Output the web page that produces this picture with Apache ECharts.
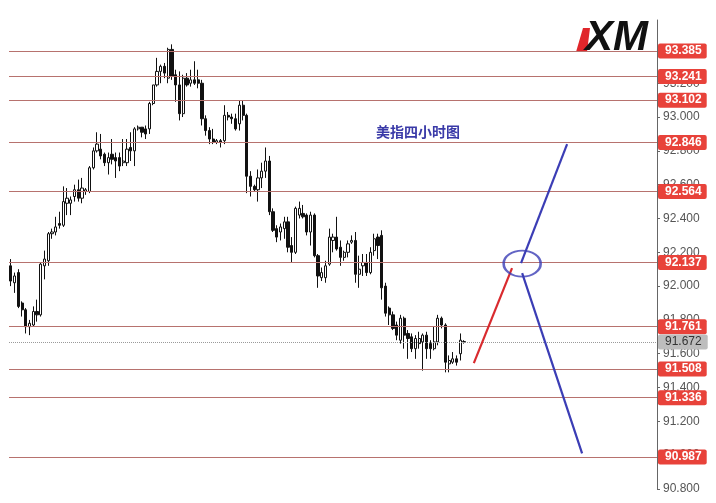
<!DOCTYPE html>
<html>
<head>
<meta charset="utf-8">
<script src="https://cdn.jsdelivr.net/npm/echarts@6/dist/echarts.min.js"></script>
<style>html,body{margin:0;padding:0;background:#fff;}#c{width:716px;height:503px;}</style>
</head>
<body>
<div id="c"></div>
<script>
// ---- data ----
var opens = [92.12,92.02,92.08,91.90,91.86,91.76,91.77,91.85,91.83,92.12,92.15,92.31,92.32,92.37,92.36,92.49,92.49,92.53,92.57,92.52,92.56,92.56,92.70,92.80,92.81,92.78,92.73,92.78,92.76,92.76,92.73,92.73,92.82,92.80,92.93,92.94,92.93,92.93,93.08,93.19,93.27,93.30,93.23,93.40,93.25,93.19,93.02,93.23,93.20,93.22,93.22,93.20,92.99,92.92,92.87,92.85,92.86,92.86,93.01,93.00,92.99,92.96,93.07,93.01,92.65,92.59,92.57,92.64,92.68,92.74,92.44,92.34,92.32,92.34,92.38,92.24,92.20,92.42,92.43,92.42,92.32,92.42,92.18,92.05,92.05,92.13,92.27,92.29,92.23,92.17,92.20,92.26,92.27,92.07,92.12,92.14,92.08,92.21,92.29,92.30,92.00,91.87,91.83,91.77,91.68,91.81,91.72,91.70,91.63,91.66,91.67,91.71,91.66,91.63,91.67,91.81,91.77,91.54,91.55,91.57,91.60,91.67];
var closes = [92.03,92.06,91.88,91.86,91.76,91.78,91.85,91.83,92.13,92.16,92.31,92.32,92.35,92.36,92.50,92.52,92.51,92.57,92.52,92.58,92.57,92.70,92.80,92.84,92.77,92.73,92.76,92.75,92.74,92.71,92.74,92.81,92.80,92.93,92.94,92.91,92.90,93.08,93.19,93.27,93.30,93.26,93.40,93.24,93.19,93.02,93.23,93.19,93.22,93.20,93.20,92.99,92.92,92.87,92.85,92.86,92.85,93.01,93.00,92.99,92.93,93.07,93.01,92.65,92.59,92.57,92.64,92.68,92.74,92.44,92.33,92.29,92.35,92.38,92.23,92.20,92.46,92.46,92.41,92.32,92.42,92.18,92.06,92.08,92.12,92.29,92.29,92.22,92.17,92.20,92.25,92.27,92.07,92.10,92.14,92.08,92.20,92.28,92.24,91.99,91.84,91.83,91.75,91.71,91.81,91.71,91.69,91.63,91.69,91.69,91.71,91.63,91.63,91.67,91.81,91.77,91.55,91.56,91.57,91.55,91.68,91.672];
var highs = [92.16,92.08,92.10,91.91,91.87,91.80,91.88,91.92,92.14,92.21,92.32,92.34,92.41,92.44,92.59,92.58,92.53,92.60,92.63,92.64,92.58,92.71,92.82,92.91,92.90,92.79,92.79,92.87,92.79,92.79,92.87,92.87,92.91,92.94,92.95,92.94,92.95,93.09,93.19,93.35,93.31,93.32,93.41,93.43,93.28,93.27,93.25,93.26,93.28,93.33,93.28,93.22,93.01,92.94,92.93,92.87,92.87,93.07,93.03,93.02,93.02,93.10,93.10,93.02,92.68,92.60,92.69,92.73,92.82,92.77,92.46,92.36,92.37,92.41,92.41,92.29,92.47,92.50,92.48,92.43,92.44,92.43,92.19,92.11,92.15,92.34,92.31,92.41,92.27,92.21,92.27,92.30,92.32,92.18,92.19,92.19,92.23,92.31,92.31,92.33,92.02,91.88,91.85,91.79,91.83,91.82,91.74,91.72,91.71,91.73,91.72,91.73,91.68,91.76,91.83,91.82,91.78,91.59,91.61,91.59,91.72,91.68];
var lows = [92.00,91.96,91.87,91.82,91.72,91.71,91.76,91.79,91.82,92.04,92.12,92.28,92.30,92.34,92.35,92.42,92.42,92.50,92.50,92.49,92.54,92.55,92.69,92.79,92.75,92.71,92.66,92.72,92.64,92.68,92.71,92.71,92.74,92.71,92.92,92.88,92.87,92.90,93.07,93.18,93.20,93.23,93.20,93.22,93.09,92.98,93.00,93.18,93.18,93.19,93.17,92.95,92.89,92.84,92.84,92.84,92.82,92.84,92.98,92.96,92.92,92.92,92.98,92.55,92.53,92.56,92.50,92.58,92.64,92.42,92.32,92.26,92.27,92.28,92.20,92.14,92.19,92.40,92.40,92.30,92.24,92.17,91.99,92.03,92.02,92.12,92.20,92.21,92.12,92.15,92.17,92.25,92.02,91.99,92.06,92.06,92.07,92.18,92.16,91.92,91.82,91.77,91.74,91.68,91.66,91.63,91.57,91.61,91.57,91.63,91.50,91.57,91.57,91.62,91.65,91.75,91.49,91.49,91.54,91.53,91.56,91.66];
var slotCount = 173;              // candle slots incl. empty space on the right
var levels = [93.385, 93.241, 93.102, 92.846, 92.564, 92.137, 91.761, 91.508, 91.336, 90.987];
var lastPrice = 91.672;
var yTicks = {min: 90.8, max: 93.574, interval: 0.2};
var redPath = [[123.6, 91.544], [133.8, 92.106]];
var blueUpPath = [[136.2, 92.136], [148.5, 92.840]];
var blueDownPath = [[136.5, 92.077], [152.5, 91.011]];
var circlePoint = [[136.5, 92.133]];
var titleText = '美指四小时图';

// ---- build ----
var cats = [];
for (var i = 0; i < slotCount; i++) cats.push(String(i));
var candles = [];
for (var j = 0; j < opens.length; j++) candles.push([opens[j], closes[j], lows[j], highs[j]]);

var lineColor = '#b7726e';
var boxFont = 'Liberation Sans';
var markData = levels.map(function (v) {
  return {
    yAxis: v,
    lineStyle: {color: lineColor, width: 1, type: 'solid'},
    label: {
      show: true, position: 'end', distance: 1,
      formatter: v.toFixed(3),
      backgroundColor: '#e8423a', color: '#fff', fontSize: 12, fontWeight: 'bold',
      fontFamily: boxFont, padding: [2, 5, 1, 7], borderRadius: 2
    }
  };
});
markData.push({
  yAxis: lastPrice,
  lineStyle: {color: '#9a9a9a', width: 1, type: 'dotted'},
  label: {
    show: true, position: 'end', distance: 1,
    formatter: lastPrice.toFixed(3),
    backgroundColor: '#bdbdbd', color: '#333', fontSize: 12,
    fontFamily: boxFont, padding: [2, 6, 1, 7], borderRadius: 2
  }
});

var chart = echarts.init(document.getElementById('c'), null, {renderer: 'canvas'});
chart.setOption({
  animation: false,
  backgroundColor: '#fff',
  title: {
    text: titleText, left: 371, top: 120,
    textStyle: {color: '#3a3aa8', fontSize: 14, fontWeight: 'bold', fontFamily: 'Noto Sans CJK SC'}
  },
  grid: {left: 9, right: 59, top: 20, bottom: 14, containLabel: false},
  xAxis: [
    {type: 'category', data: cats, boundaryGap: true, show: false},
    {type: 'value', min: -0.5, max: slotCount - 0.5, show: false}
  ],
  yAxis: {
    type: 'value', position: 'right', scale: true,
    min: yTicks.min, max: yTicks.max, interval: yTicks.interval,
    axisLine: {show: true, onZero: false, lineStyle: {color: '#666', width: 1}},
    axisTick: {show: true, length: 3, lineStyle: {color: '#666'}},
    axisLabel: {
      show: true, color: '#555', fontSize: 12, margin: 6, fontFamily: 'Liberation Sans',
      showMaxLabel: false,
      formatter: function (v) { return v.toFixed(3); }
    },
    splitLine: {show: false}
  },
  series: [
    {
      type: 'candlestick', data: candles, barWidth: '72%',
      itemStyle: {color: '#ffffff', borderColor: '#111', color0: '#111', borderColor0: '#111', borderWidth: 1},
      markLine: {symbol: 'none', silent: true, animation: false, data: markData}
    },
    {
      type: 'line', xAxisIndex: 1, data: redPath, symbol: 'none',
      lineStyle: {color: '#d92a2e', width: 2.2}, z: 5
    },
    {
      type: 'line', xAxisIndex: 1, data: blueUpPath, symbol: 'none',
      lineStyle: {color: '#3b3db5', width: 2.2}, z: 5
    },
    {
      type: 'line', xAxisIndex: 1, data: blueDownPath, symbol: 'none',
      lineStyle: {color: '#3b3db5', width: 2.2}, z: 5
    },
    {
      type: 'scatter', xAxisIndex: 1, data: circlePoint, symbol: 'circle', symbolSize: [37, 26],
      itemStyle: {color: 'rgba(0,0,0,0)', borderColor: '#3b3db5', borderWidth: 2.2}, z: 5
    }
  ],
  graphic: [
    {
      type: 'polygon', shape: {points: [[583, 28], [590, 28], [587, 52], [576, 52]]},
      style: {fill: '#e0262b'}
    },
    {
      type: 'text', left: 585, top: 17,
      style: {text: 'XM', font: 'italic bold 42px "Liberation Sans"', fill: '#111'}
    }
  ]
});
</script>
</body>
</html>
